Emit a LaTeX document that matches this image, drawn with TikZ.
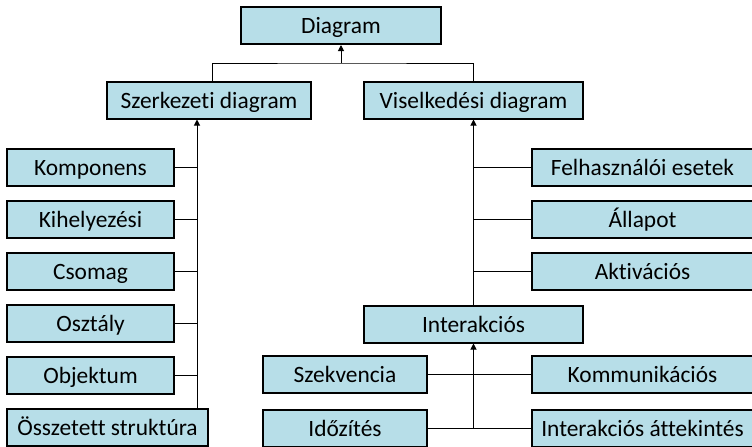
\documentclass[tikz,border=0pt]{standalone}
\usepackage{fontspec}
\setmainfont{Carlito}[Ligatures={NoCommon}]
\usetikzlibrary{arrows.meta}
\definecolor{boxblue}{HTML}{B7DEE8}

\begin{document}
\begin{tikzpicture}[x=0.5pt,y=-0.5pt,
	font=\fontsize{11.7}{13}\selectfont,
	kind/.style={draw,line width=1pt,fill=boxblue,minimum height=18.5pt,inner sep=0pt,text height=8pt,text depth=0pt},
	link/.style={line width=0.5pt},
	arr/.style={link,-{Triangle[length=3pt,width=3pt]}}]
	\useasboundingbox (0,0) rectangle (752,446);
	% top level
	\node [kind,minimum width=100pt] (diag) at (341,25.5) {Diagram};
	\node [kind,minimum width=102pt] (szerk) at (209,100) {Szerkezeti diagram};
	\node [kind,minimum width=109.5pt] (visel) at (473.5,100) {Viselkedési diagram};
	\coordinate (topbus) at (341,63);
	\draw [arr] (topbus) -- (diag.south);
	\draw [link] ([xshift=1.5pt]szerk.north) |- (topbus) -| (visel.north);
	% structural diagrams
	\node [kind,minimum width=83.5pt] (komp) at (90.5,167) {Komponens};
	\node [kind,minimum width=83.5pt] (kihely) at (90.5,219) {Kihelyezési};
	\node [kind,minimum width=83.5pt] (csomag) at (90.5,271) {Csomag};
	\node [kind,minimum width=83.5pt] (osztaly) at (90.5,323) {Osztály};
	\node [kind,minimum width=83.5pt] (objekt) at (90.5,375) {Objektum};
	\node [kind,minimum width=100.5pt] (osszet) at (107.5,427) {Összetett struktúra};
	\coordinate (lbus) at (197,118);
	\draw [arr] (osszet.north -| lbus) -- (szerk.south -| lbus);
	\foreach \n in {komp,kihely,csomag,osztaly,objekt}
		\draw [link] (\n.east) -- (\n.east -| lbus);
	% behavioural diagrams
	\node [kind,minimum width=110.5pt] (felh) at (642.5,167) {Felhasználói esetek};
	\node [kind,minimum width=110.5pt] (allap) at (642.5,219) {Állapot};
	\node [kind,minimum width=110.5pt] (aktiv) at (642.5,271) {Aktivációs};
	\node [kind,minimum width=109.5pt] (interakc) at (473.5,324) {Interakciós};
	\draw [arr] (interakc.north) -- (visel.south);
	\foreach \n in {felh,allap,aktiv}
		\draw [link] (\n.west) -- (\n.west -| interakc.north);
	% interaction diagrams
	\node [kind,minimum width=82pt] (szekv) at (345,374.5) {Szekvencia};
	\node [kind,minimum width=110.5pt] (kommun) at (642.5,374.5) {Kommunikációs};
	\node [kind,minimum width=82pt] (idoz) at (345,428.5) {Időzítés};
	\node [kind,minimum width=110.5pt] (attek) at (642.5,428.5) {Interakciós áttekintés};
	\draw [arr] (idoz.east -| interakc.south) -- (interakc.south);
	\draw [link] (szekv.east) -- (kommun.west);
	\draw [link] (idoz.east) -- (attek.west);
\end{tikzpicture}
\end{document}
